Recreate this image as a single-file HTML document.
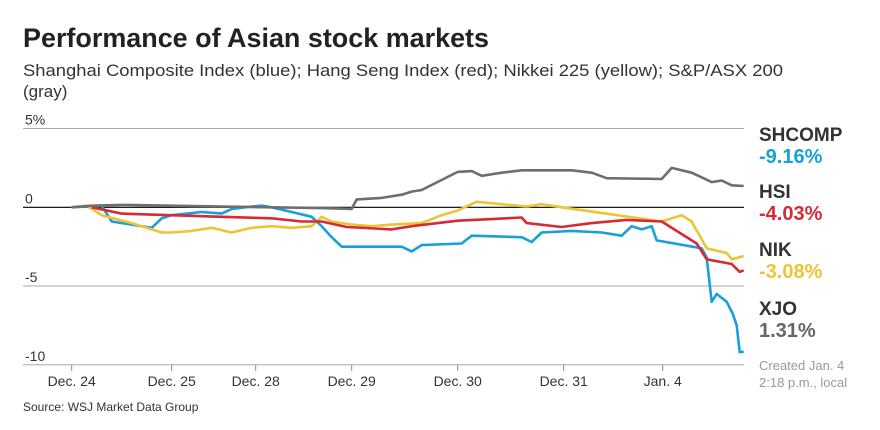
<!DOCTYPE html>
<html><head><meta charset="utf-8"><style>
html,body{margin:0;padding:0;background:#fff;}
svg{display:block;font-family:"Liberation Sans",sans-serif;}
</style></head><body>
<svg id="chart" width="880" height="430" viewBox="0 0 880 430">
<text x="23" y="47" font-size="27" font-weight="bold" fill="#222" textLength="466" lengthAdjust="spacingAndGlyphs">Performance of Asian stock markets</text>
<text x="23" y="76" font-size="17" fill="#333" textLength="760" lengthAdjust="spacingAndGlyphs">Shanghai Composite Index (blue); Hang Seng Index (red); Nikkei 225 (yellow); S&amp;P/ASX 200</text>
<text x="23" y="97" font-size="17" fill="#333">(gray)</text>
<g id="grid"></g>
<g id="series"></g>
<g id="legend">
<text x="759" y="141" font-size="19" font-weight="bold" fill="#333">SHCOMP</text>
<text x="759" y="163" font-size="20" font-weight="bold" fill="#1a9fdc">-9.16%</text>
<text x="759" y="198" font-size="19" font-weight="bold" fill="#333">HSI</text>
<text x="759" y="220" font-size="20" font-weight="bold" fill="#d42b35">-4.03%</text>
<text x="759" y="256" font-size="19" font-weight="bold" fill="#333">NIK</text>
<text x="759" y="278" font-size="20" font-weight="bold" fill="#eec435">-3.08%</text>
<text x="759" y="315" font-size="19" font-weight="bold" fill="#333">XJO</text>
<text x="759" y="337" font-size="20" font-weight="bold" fill="#666">1.31%</text>
</g>
<text x="759" y="370" font-size="13" fill="#999">Created Jan. 4</text>
<text x="759" y="387" font-size="13" fill="#999">2:18 p.m., local</text>
<text x="23" y="411" font-size="12" fill="#333">Source: WSJ Market Data Group</text>
</svg>
<script>
const yTicks=[5,0,-5,-10];
const yTickLabels=["5%","0","-5","-10"];
const xTicks=[0,1,1.84,2.8,3.86,4.92,5.91];
const xTickLabels=["Dec. 24","Dec. 25","Dec. 28","Dec. 29","Dec. 30","Dec. 31","Jan. 4"];
const xjoT=[0,0.2,0.5,1,1.5,2,2.5,2.8,2.85,3.1,3.3,3.4,3.5,3.86,4.0,4.1,4.3,4.5,5.0,5.2,5.35,5.9,6.0,6.2,6.4,6.5,6.6,6.72];
const xjoV=[0,0.1,0.15,0.1,0.05,0,-0.05,-0.1,0.5,0.6,0.8,1.0,1.1,2.25,2.3,2.0,2.2,2.35,2.35,2.2,1.85,1.8,2.5,2.2,1.6,1.7,1.4,1.35];
const shT=[0,0.3,0.4,0.6,0.8,0.9,1.0,1.3,1.5,1.6,1.8,1.9,2.0,2.2,2.4,2.5,2.6,2.7,3.3,3.4,3.5,3.9,4.0,4.5,4.6,4.7,5.0,5.3,5.5,5.6,5.7,5.8,5.85,6.3,6.35,6.4,6.45,6.55,6.61,6.65,6.68,6.72];
const shV=[0,0.1,-0.9,-1.1,-1.3,-0.7,-0.5,-0.3,-0.4,-0.1,0.05,0.1,0,-0.3,-0.6,-1.2,-1.9,-2.5,-2.5,-2.8,-2.4,-2.3,-1.8,-1.9,-2.2,-1.6,-1.5,-1.6,-1.8,-1.2,-1.4,-1.2,-2.1,-2.6,-3.2,-6.0,-5.5,-6.0,-6.75,-7.5,-9.2,-9.16];
const hsiT=[0.2,0.5,1.5,2.0,2.3,2.5,2.75,3.2,3.4,3.86,4.2,4.5,4.55,4.9,5.2,5.55,5.9,6.2,6.25,6.35,6.6,6.68,6.72];
const hsiV=[0,-0.4,-0.6,-0.7,-0.9,-0.9,-1.25,-1.4,-1.2,-0.85,-0.75,-0.65,-1.0,-1.25,-1.0,-0.8,-0.9,-2.1,-2.3,-3.3,-3.6,-4.1,-4.0];
const nikT=[0,0.15,0.3,0.6,0.9,1.0,1.2,1.4,1.6,1.8,2.0,2.2,2.4,2.5,2.6,2.8,3.0,3.2,3.5,3.7,3.86,4.05,4.3,4.55,4.7,4.9,5.9,6.1,6.2,6.35,6.55,6.6,6.72];
const nikV=[0,0.1,-0.5,-1.0,-1.6,-1.6,-1.5,-1.3,-1.6,-1.3,-1.2,-1.3,-1.2,-0.6,-0.9,-1.1,-1.2,-1.1,-1.0,-0.5,-0.2,0.35,0.2,0.05,0.2,0.0,-0.9,-0.5,-0.9,-2.6,-2.9,-3.3,-3.1];
const NS="http://www.w3.org/2000/svg";
const X0=71.7,XS=100.0;
function xs(t){return X0+t*XS;}
function ys(v){return 207.3-v*15.75;}
const grid=document.getElementById('grid');
yTicks.forEach((v,i)=>{
 const l=document.createElementNS(NS,'line');
 l.setAttribute('x1',23);l.setAttribute('x2',744);
 l.setAttribute('y1',ys(v));l.setAttribute('y2',ys(v));
 l.setAttribute('stroke',v===0?'#000':'#aaa');l.setAttribute('stroke-width',v===0?1.2:1);
 
 
 grid.appendChild(l);
 const t=document.createElementNS(NS,'text');
 t.setAttribute('x',25);t.setAttribute('y',ys(v)-4);t.setAttribute('font-size',14);t.setAttribute('fill','#333');
 t.textContent=yTickLabels[i];
 
 
 grid.appendChild(t);
});
xTicks.forEach((v,i)=>{
 const l=document.createElementNS(NS,'line');
 l.setAttribute('x1',xs(v));l.setAttribute('x2',xs(v));l.setAttribute('y1',365);l.setAttribute('y2',371);
 l.setAttribute('stroke','#888');
 
 
 grid.appendChild(l);
 const t=document.createElementNS(NS,'text');
 t.setAttribute('x',xs(v));t.setAttribute('y',386);t.setAttribute('font-size',14);t.setAttribute('fill','#333');t.setAttribute('text-anchor','middle');
 t.textContent=xTickLabels[i];
 
 
 grid.appendChild(t);
});
const ser=document.getElementById('series');
function draw(T,V,color,name){
 const p=document.createElementNS(NS,'polyline');
 p.setAttribute('points',T.map((t,i)=>xs(t).toFixed(1)+','+ys(V[i]).toFixed(1)).join(' '));
 p.setAttribute('fill','none');p.setAttribute('stroke',color);p.setAttribute('stroke-width',2.6);p.setAttribute('stroke-linejoin','round');
 
 
 ser.appendChild(p);
}
draw(shT,shV,'#1a9fdc','line-shcomp');
draw(nikT,nikV,'#eec435','line-nik');
draw(hsiT,hsiV,'#d42b35','line-hsi');
draw(xjoT,xjoV,'#6e6e6e','line-xjo');
</script>
</body></html>
